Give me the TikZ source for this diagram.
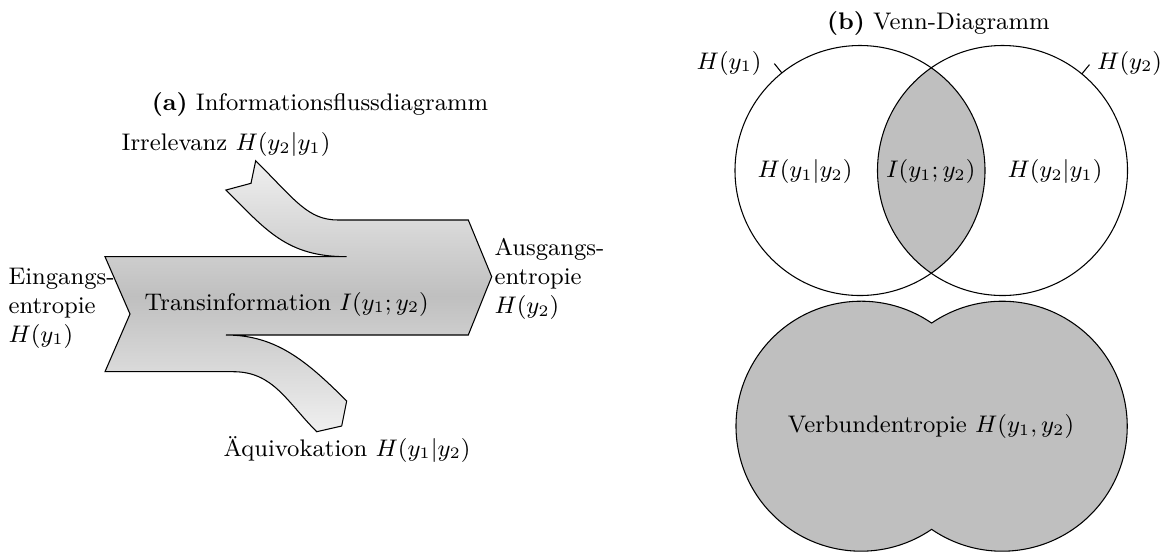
\documentclass[tikz,border=0pt]{standalone}
\begin{document}
\begin{tikzpicture}[x=0.375pt,y=-0.375pt,
  font=\fontsize{9}{10.9}\selectfont,
  flow/.style={draw=black, line width=0.4pt, line join=miter,
    top color=gray!12, bottom color=gray!12, middle color=gray!50},
  setline/.style={draw=black, line width=0.4pt},
  setfill/.style={fill=gray!50},
  txt/.style={inner sep=0pt}]
\useasboundingbox (0,0) rectangle (1161,552);

% ---------- (a) Informationsflussdiagramm ----------
\path[flow] (105,256.7) -- (130,314) -- (105,371.7) -- (233.3,371.7)
  .. controls (273.3,371.7) and (286.7,401.7) .. (316.7,431.7)
  -- (341.7,426) -- (346.7,401)
  .. controls (306.7,361) and (276,335) .. (226,335)
  -- (468.3,335) -- (491.7,276.7) -- (468.3,220) -- (338.3,220)
  .. controls (308,220) and (295.7,200.7) .. (255.7,160.7)
  -- (251,183.3) -- (226,190)
  .. controls (266,230) and (286.7,256.7) .. (346.7,256.7)
  -- cycle;

\node[txt, anchor=base] (titleA) at (320,110) {\textbf{(a)} Informationsflussdiagramm};
\node[txt, anchor=base] (irr) at (226,150.7) {Irrelevanz $H(y_2|y_1)$};
\node[txt, anchor=base] (trans) at (286.7,310) {Transinformation $I(y_1;y_2)$};
\node[txt, anchor=west, align=left] (ein) at (8,308) {Eingangs-\\entropie\\$H(y_1)$};
\node[txt, anchor=west, align=left] (aus) at (494,279) {Ausgangs-\\entropie\\$H(y_2)$};
\node[txt, anchor=base] (aeq) at (347,456) {Äquivokation $H(y_1|y_2)$};

% ---------- (b) Venn-Diagramm ----------
\node[txt, anchor=base] (titleB) at (938.3,29) {\textbf{(b)} Venn-Diagramm};

\coordinate (L) at (860,170.5);
\coordinate (R) at (1002.5,170.5);
\begin{scope}
  \clip (L) circle[radius=125];
  \fill[setfill] (R) circle[radius=125];
\end{scope}
\draw[setline] (L) circle[radius=125];
\draw[setline] (R) circle[radius=125];

\draw[setline] (L) ++(-128.7:125) coordinate (pL) -- ++(-128.7:12) coordinate (pLe);
\draw[setline] (R) ++(-50.6:125) coordinate (pR) -- ++(-50.6:12) coordinate (pRe);
\node[txt, anchor=east] (hy1) at (762,63) {$H(y_1)$};
\node[txt, anchor=west] (hy2) at (1096.7,63) {$H(y_2)$};

\node[txt] (h12) at (805,171.7) {$H(y_1|y_2)$};
\node[txt] (i12) at (930.7,171.7) {$I(y_1;y_2)$};
\node[txt] (h21) at (1055,171.7) {$H(y_2|y_1)$};

% union
\coordinate (UL) at (861,426.2);
\coordinate (UR) at (1001.7,426.2);
\path[setline, setfill] (UL) ++(-55.6:125) coordinate (Utop)
  arc[start angle=-55.6, end angle=-304.4, radius=125] coordinate (Ubot)
  arc[start angle=124.4, end angle=-124.4, radius=125] -- cycle;
\node[txt] (verb) at (931,426.7) {Verbundentropie $H(y_1,y_2)$};
\end{tikzpicture}
\end{document}
